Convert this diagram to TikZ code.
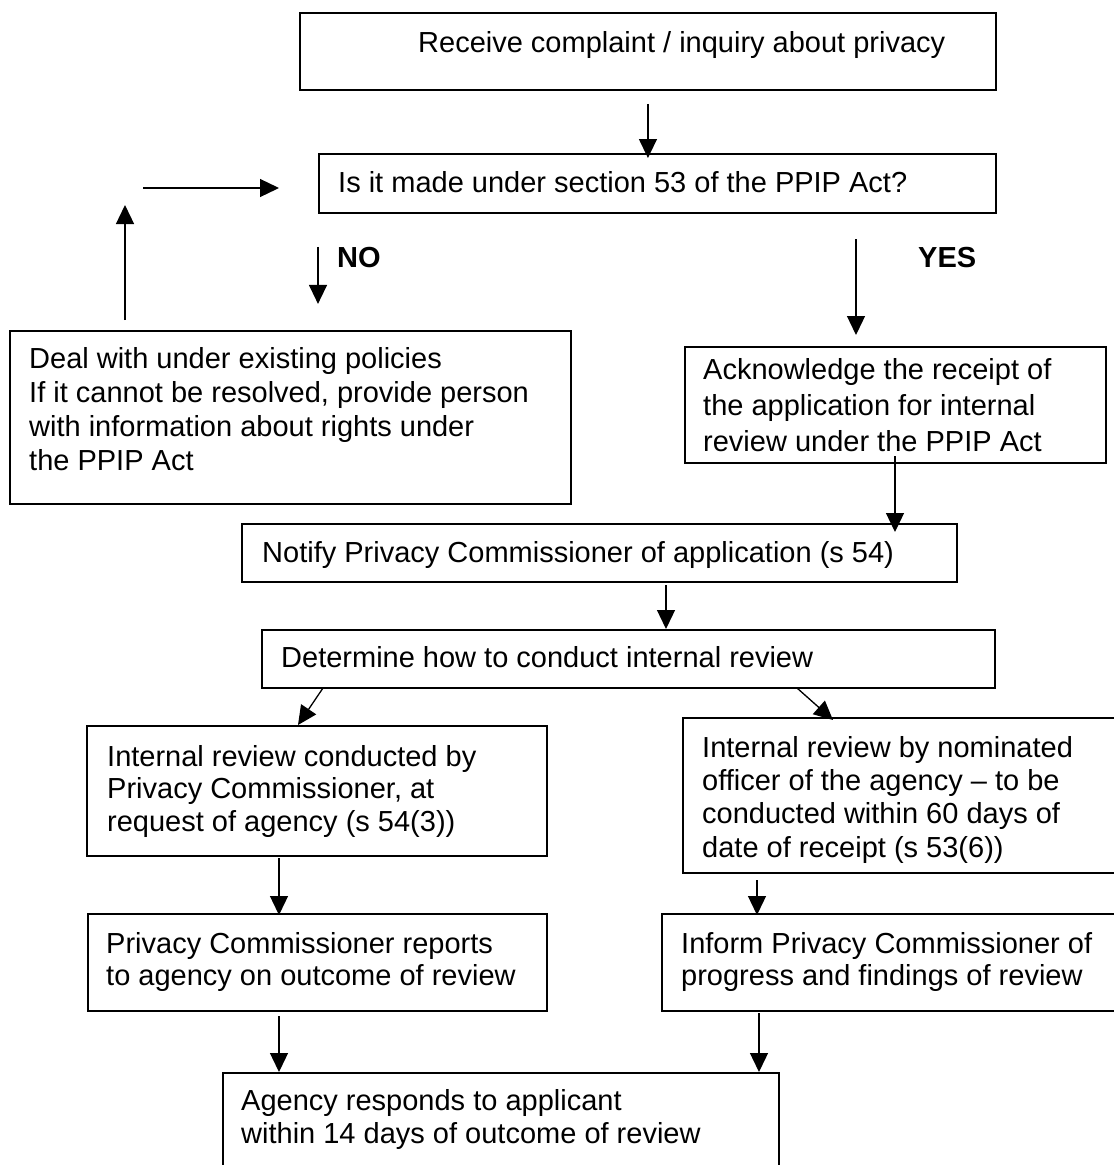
\documentclass[tikz,border=0pt]{standalone}
\usepackage{fontspec}
\setmainfont{Liberation Sans}
\usetikzlibrary{arrows.meta}
\newcommand\tstr{\rule{0pt}{24pt}}
\begin{document}
\begin{tikzpicture}[x=1pt,y=-1pt,
  box/.style={draw, line width=1.9pt, rectangle, inner sep=0pt, anchor=north west},
  txt/.style={inner sep=0pt, align=left, anchor=north west, font=\fontsize{29}{34}\selectfont},
  lbl/.style={inner sep=0pt, anchor=base west, font=\fontsize{29}{34}\selectfont\bfseries},
  arr/.style={-{Triangle[length=19pt,width=18pt]}, line width=1.3pt}]
\useasboundingbox (0,0) rectangle (1114,1165);
\clip (0,0) rectangle (1114,1165);
\fill[white] (0,0) rectangle (1114,1165);

% boxes
\node[box, minimum width=696pt, minimum height=77pt]  (receive) at (299,12) {};
\node[box, minimum width=677pt, minimum height=59pt]  (isit)    at (318,153) {};
\node[box, minimum width=561pt, minimum height=173pt] (deal)    at (9,330) {};
\node[box, minimum width=421pt, minimum height=116pt] (ack)     at (684,346) {};
\node[box, minimum width=715pt, minimum height=58pt]  (notify)  at (241,523) {};
\node[box, minimum width=733pt, minimum height=58pt]  (det)     at (261,629) {};
\node[box, minimum width=460pt, minimum height=130pt] (cond)    at (86,725) {};
\node[box, minimum width=450pt, minimum height=155pt] (nom)     at (682,717) {};
\node[box, minimum width=459pt, minimum height=97pt]  (rep)     at (87,913) {};
\node[box, minimum width=470pt, minimum height=97pt]  (inf)     at (661,913) {};
\node[box, minimum width=556pt, minimum height=130pt] (agency)  at (222,1072) {};

% texts
\node[txt] (receive-t) at (418,28) {\tstr Receive complaint / inquiry about privacy};
\node[txt] (isit-t) at (338,168) {\tstr Is it made under section 53 of the PPIP Act?};
\node[lbl] (no) at (337,267) {NO};
\node[lbl] (yes) at (918,267) {YES};
\node[txt] (deal-t) at (29,344) {\tstr Deal with under existing policies\\If it cannot be resolved, provide person\\with information about rights under\\the PPIP Act};
\node[txt, font=\fontsize{29}{36}\selectfont] (ack-t) at (703,355) {\tstr Acknowledge the receipt of\\the application for internal\\review under the PPIP Act};
\node[txt] (notify-t) at (262,538) {\tstr Notify Privacy Commissioner of application (s 54)};
\node[txt, font=\fontsize{29}{32.5}\selectfont] (cond-t) at (107,742) {\tstr Internal review conducted by\\Privacy Commissioner, at\\request of agency (s 54(3))};
\node[txt] (det-t) at (281,643) {\tstr Determine how to conduct internal review};
\node[txt, font=\fontsize{29}{33.3}\selectfont] (nom-t) at (702,733) {\tstr Internal review by nominated\\officer of the agency -- to be\\conducted within 60 days of\\date of receipt (s 53(6))};
\node[txt, font=\fontsize{29}{32}\selectfont] (rep-t) at (106,929) {\tstr Privacy Commissioner reports\\to agency on outcome of review};
\node[txt, font=\fontsize{29}{32}\selectfont] (inf-t) at (681,929) {\tstr Inform Privacy Commissioner of\\progress and findings of review};
\node[txt, font=\fontsize{29}{33}\selectfont] (agency-t) at (241,1086) {\tstr Agency responds to applicant\\within 14 days of outcome of review};

% connectors
\draw[arr] ([yshift=-13pt]receive.south) -- ([yshift=-5pt]receive.south |- isit.north);
\coordinate (loopA) at (125,320);
\coordinate (loopB) at (125,205);
\draw[arr] (loopA) -- (loopB);
\coordinate (loopC) at (143,188);
\coordinate (loopD) at (279,188);
\draw[arr] (loopC) -- (loopD);
\draw[arr] ([yshift=-33pt]isit.south west) -- ([yshift=-90pt]isit.south west);
\coordinate (yesA) at (856,239);
\draw[arr] (yesA) -- ([yshift=11pt]yesA |- ack.north);
\coordinate (ackOut) at (895,456);
\draw[arr] (ackOut) -- ([yshift=-9pt]ackOut |- notify.north);
\coordinate (nOut) at (666,585);
\draw[arr] (nOut) -- (nOut |- det.north);
\coordinate (dL) at (323,688);
\draw[arr] (dL) -- ([xshift=212pt]cond.north west);
\coordinate (dR) at (797,688);
\draw[arr] (dR) -- ([xshift=151pt,yshift=-3pt]nom.north west);
\coordinate (cOut) at (279,858);
\draw[arr] (cOut) -- ([yshift=-2pt]cOut |- rep.north);
\coordinate (nomOut) at (757,880);
\draw[arr] (nomOut) -- ([yshift=-2pt]nomOut |- inf.north);
\coordinate (rOut) at (279,1016);
\draw[arr] (rOut) -- (rOut |- agency.north);
\coordinate (iOut) at (759,1013);
\draw[arr] (iOut) -- (iOut |- agency.north);
\end{tikzpicture}
\end{document}
